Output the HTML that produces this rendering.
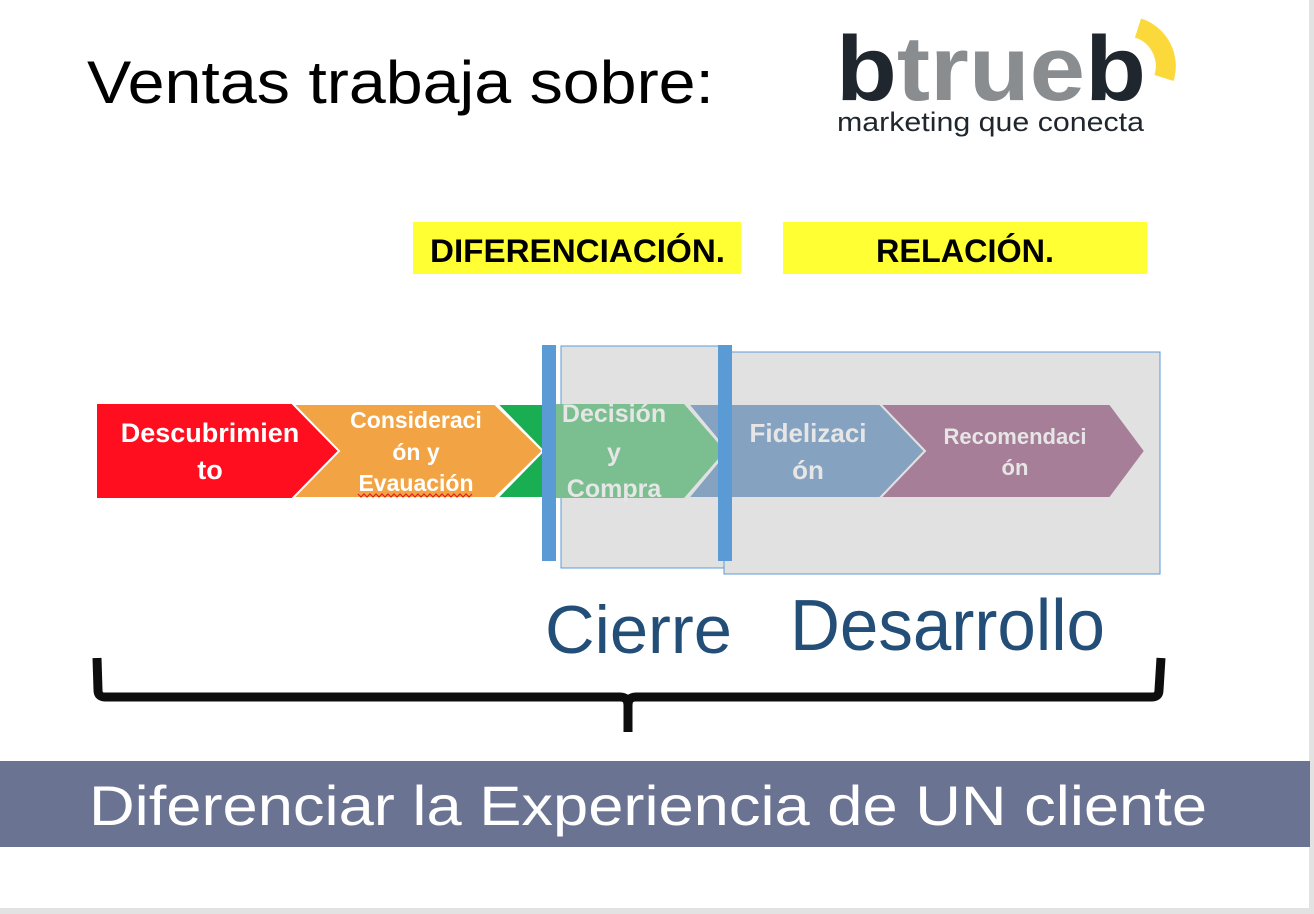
<!DOCTYPE html>
<html><head><meta charset="utf-8"><style>
html,body{margin:0;padding:0;background:#fff;}
svg{display:block;}
text{font-family:"Liberation Sans",sans-serif;}
</style></head><body>
<svg width="1314" height="914" viewBox="0 0 1314 914" xmlns="http://www.w3.org/2000/svg">
<rect x="0" y="0" width="1314" height="914" fill="#fff"/>
<rect x="1309" y="0" width="5" height="914" fill="#e2e2e2"/>
<rect x="0" y="908" width="1314" height="6" fill="#e2e2e2"/>

<text x="87" y="103" font-size="60" fill="#000" textLength="627" lengthAdjust="spacingAndGlyphs">Ventas trabaja sobre:</text>

<!-- logo -->
<text x="836" y="100" font-size="92" font-weight="bold" fill="#1f262d" textLength="310" lengthAdjust="spacingAndGlyphs">b<tspan fill="#8a8d8f">true</tspan>b</text>
<path d="M1138 28 A40 40 0 0 1 1164 78" stroke="#fcd93a" stroke-width="20" fill="none"/>
<text x="837" y="131" font-size="27" fill="#1f262d" textLength="307" lengthAdjust="spacingAndGlyphs">marketing que conecta</text>

<!-- yellow labels -->
<rect x="413" y="222" width="328" height="52" fill="#ffff33"/>
<text x="430" y="262" font-size="32" font-weight="bold" fill="#000" textLength="295" lengthAdjust="spacingAndGlyphs">DIFERENCIACIÓN.</text>
<rect x="783" y="222" width="364" height="52" fill="#ffff33"/>
<text x="876" y="262" font-size="32" font-weight="bold" fill="#000" textLength="178" lengthAdjust="spacingAndGlyphs">RELACIÓN.</text>

<!-- chevrons -->
<polygon points="97,404 292,404 339,451 292,498 97,498" fill="#fe0e1e"/>
<polygon points="293,404 495,404 543,451 495,498 293,498 339,451" fill="#f2a445" stroke="#fff" stroke-width="2"/>
<polygon points="497,404 720,404 720,498 497,498 543,451" fill="#1aae52" stroke="#fff" stroke-width="2"/>

<!-- gray boxes -->
<rect x="561" y="346" width="163" height="222" fill="#e1e1e1" stroke="#5b9bd5" stroke-width="1"/>
<rect x="724" y="352" width="436" height="222" fill="#e1e1e1" stroke="#5b9bd5" stroke-width="1"/>

<polygon points="556,404 684,404 725,451 684,498 556,498" fill="#7bbe8f"/>
<polygon points="688,404 880,404 925,451 880,498 688,498 727,451" fill="#85a2c0" stroke="#e1e1e1" stroke-width="2"/>
<polygon points="880,404 1110,404 1145,451 1110,498 880,498 925,451" fill="#a67e98" stroke="#e1e1e1" stroke-width="2"/>

<!-- chevron text -->
<g font-weight="bold" text-anchor="middle">
<text x="210" y="442" font-size="27" fill="#fff">Descubrimien</text>
<text x="210" y="479" font-size="27" fill="#fff">to</text>
<text x="416" y="428" font-size="23" fill="#fff">Consideraci</text>
<text x="416" y="460" font-size="23" fill="#fff">ón y</text>
<text x="416" y="491" font-size="23" fill="#fff">Evauación</text>
<text x="614" y="422" font-size="25" fill="#e6e6e6">Decisión</text>
<text x="614" y="461" font-size="25" fill="#e6e6e6">y</text>
<text x="614" y="497" font-size="25" fill="#e6e6e6">Compra</text>
<text x="808" y="442" font-size="26" fill="#e6e6e6">Fidelizaci</text>
<text x="808" y="479" font-size="26" fill="#e6e6e6">ón</text>
<text x="1015" y="444" font-size="22" fill="#e6e6e6">Recomendaci</text>
<text x="1015" y="475" font-size="22" fill="#e6e6e6">ón</text>
</g>
<path d="M358 494 l3 3 l3 -3 l3 3 l3 -3 l3 3 l3 -3 l3 3 l3 -3 l3 3 l3 -3 l3 3 l3 -3 l3 3 l3 -3 l3 3 l3 -3 l3 3 l3 -3 l3 3 l3 -3 l3 3 l3 -3 l3 3 l3 -3 l3 3 l3 -3 l3 3 l3 -3 l3 3 l3 -3 l3 3 l3 -3 l3 3 l3 -3 l3 3 l3 -3 l3 3 l3 -3" stroke="#e02020" stroke-width="1.2" fill="none"/>

<!-- blue bars -->
<rect x="542" y="345" width="14" height="216" fill="#5b9bd5"/>
<rect x="718" y="345" width="14" height="216" fill="#5b9bd5"/>

<text x="545" y="653" font-size="68" fill="#234e77" textLength="187" lengthAdjust="spacingAndGlyphs">Cierre</text>
<text x="790" y="650" font-size="72" fill="#234e77" textLength="315" lengthAdjust="spacingAndGlyphs">Desarrollo</text>

<!-- brace -->
<path d="M97 658 L98 690 Q98 697 105 697 L620 697 Q628 697 628 705 L628 732 M628 705 Q628 697 636 697 L1152 697 Q1159 697 1159 690 L1161 658" stroke="#0d0d0d" stroke-width="9" fill="none"/>

<!-- banner -->
<rect x="0" y="761" width="1310" height="86" fill="#6b7393"/>
<text x="89" y="825" font-size="56" fill="#fff" textLength="1118" lengthAdjust="spacingAndGlyphs">Diferenciar la Experiencia de UN cliente</text>
</svg>
</body></html>
